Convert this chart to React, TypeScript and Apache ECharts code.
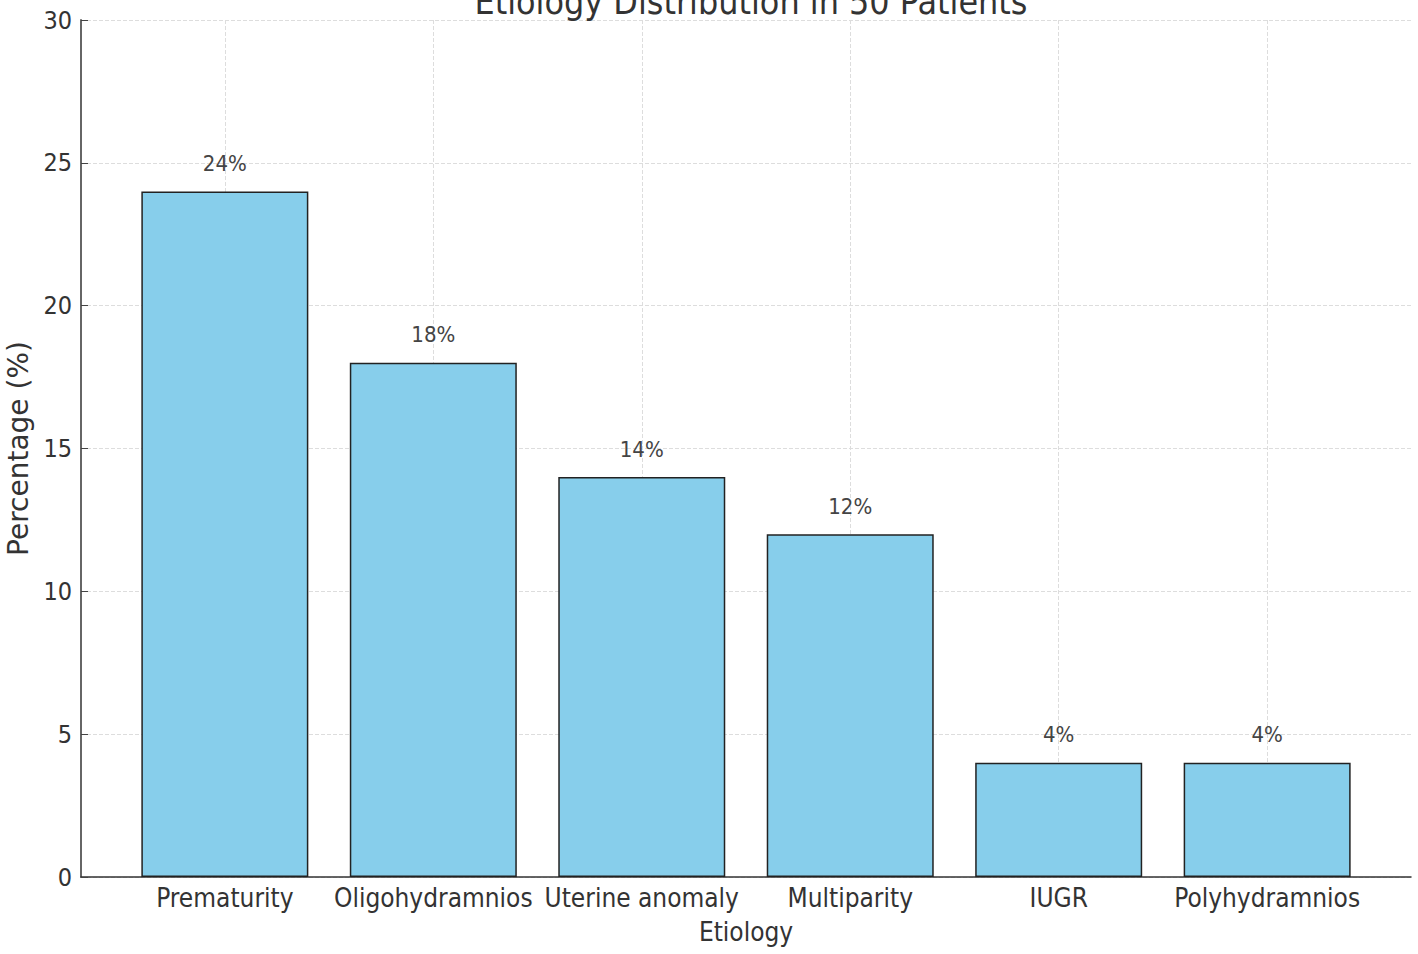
import React, { useEffect, useRef } from "react";
import * as echarts from "echarts";

const categories = [
  "Prematurity",
  "Oligohydramnios",
  "Uterine anomaly",
  "Multiparity",
  "IUGR",
  "Polyhydramnios",
];
const percentages = [24, 18, 14, 12, 4, 4];
const yTicks = [0, 5, 10, 15, 20, 25, 30];
const positions = categories.map((_, i) => i);

const FONT = "'DejaVu Sans Condensed', 'DejaVu Sans', sans-serif";

export default function App() {
  const ref = useRef<HTMLDivElement>(null);

  useEffect(() => {
    if (!ref.current) return;
    const chart = echarts.init(ref.current, undefined, { renderer: "svg" });
    chart.setOption({
      animation: false,
      backgroundColor: "#ffffff",
      title: {
        text: "Etiology Distribution in 50 Patients",
        left: 746,
        textAlign: "center",
        top: -22,
        textStyle: {
          fontFamily: FONT,
          fontSize: 35.5,
          fontWeight: "normal",
          color: "#333",
        },
      },
      grid: { left: 81, right: 7, top: 20, bottom: 77, outerBoundsMode: "none" },
      xAxis: {
        type: "value",
        min: -0.69,
        max: 5.69,
        name: "Etiology",
        nameLocation: "middle",
        nameGap: 42,
        nameTextStyle: { fontFamily: FONT, fontSize: 26, color: "#333" },
        axisLine: { show: true, onZero: false, lineStyle: { color: "#333", width: 1.5 } },
        axisTick: {
          show: true,
          inside: true,
          length: 6,
          customValues: positions,
          lineStyle: { color: "#333" },
        },
        axisLabel: {
          customValues: positions,
          margin: 8,
          fontFamily: FONT,
          fontSize: 26,
          color: "#333",
          formatter: (v: number) => categories[Math.round(v)] ?? "",
        },
        splitLine: {
          show: true,
          lineStyle: { color: "#dddddd", type: "dashed", width: 1 },
        },
      },
      yAxis: {
        type: "value",
        min: 0,
        max: 30,
        interval: 5,
        name: "Percentage (%)",
        nameLocation: "middle",
        nameGap: 44,
        nameTextStyle: { fontFamily: "'DejaVu Sans', sans-serif", fontSize: 28, color: "#333" },
        axisLine: { show: true, onZero: false, lineStyle: { color: "#666", width: 2 } },
        axisTick: { show: true, inside: true, length: 7, lineStyle: { color: "#444" } },
        axisLabel: {
          margin: 9,
          fontFamily: FONT,
          fontSize: 25,
          color: "#333",
          customValues: yTicks,
        },
        splitLine: {
          show: true,
          lineStyle: { color: "#dddddd", type: "dashed", width: 1 },
        },
      },
      series: [
        {
          type: "bar",
          data: percentages.map((v, i) => [positions[i], v]),
          barWidth: 167,
          itemStyle: { color: "#87CEEB", borderColor: "#222", borderWidth: 1.5 },
          label: {
            show: true,
            position: "top",
            distance: 17,
            fontFamily: FONT,
            fontSize: 22,
            color: "#444",
            formatter: (p: any) => `${p.value[1]}%`,
          },
        },
      ],
    });
    return () => chart.dispose();
  }, []);

  return (
    <div
      ref={ref}
      style={{ position: "fixed", left: 0, top: 0, width: 1418, height: 954 }}
    />
  );
}
